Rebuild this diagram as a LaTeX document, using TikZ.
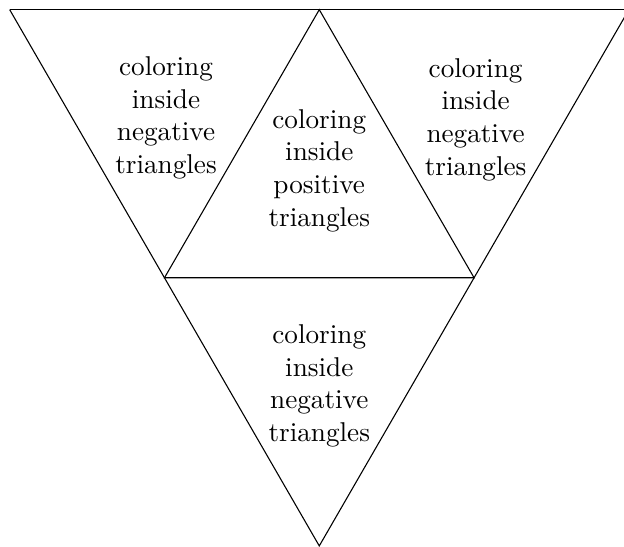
\documentclass[tikz,border=0pt]{standalone}
\begin{document}
\begin{tikzpicture}[
  lbl/.style={align=center, inner sep=0pt}
]
\useasboundingbox (-0.125,0.125) rectangle (7.937,-6.93);
\coordinate (A) at (0,0);
\coordinate (B) at (4,0);
\coordinate (C) at (8,0);
\coordinate (D) at (2,-3.4641);
\coordinate (E) at (6,-3.4641);
\coordinate (F) at (4,-6.9282);
\draw (A) -- (C);
\draw (A) -- (D) -- (F) -- (E) -- (C);
\draw (D) -- (B) -- (E) -- cycle;
\node[lbl] (tl) at (2.02,-1.40) {coloring\\inside\\negative\\triangles};
\node[lbl] (tr) at (6.02,-1.42) {coloring\\inside\\negative\\triangles};
\node[lbl] (tc) at (4,-2.08) {coloring\\inside\\positive\\triangles};
\node[lbl] (tb) at (4,-4.86) {coloring\\inside\\negative\\triangles};
\end{tikzpicture}
\end{document}
